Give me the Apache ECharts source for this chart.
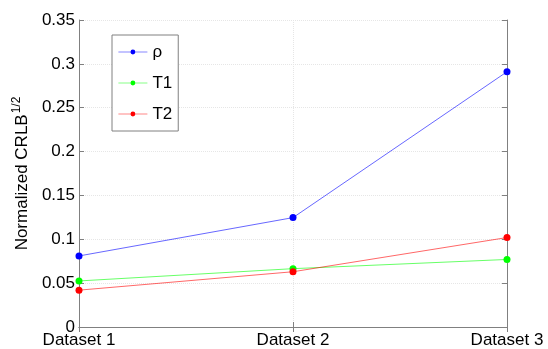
<!DOCTYPE html>
<html>
<head>
<meta charset="utf-8">
<script src="https://cdn.jsdelivr.net/npm/echarts@6/dist/echarts.min.js"></script>
<style>html,body{margin:0;padding:0;background:#fff}#chart{width:548px;height:349px}</style>
</head>
<body>
<div id="chart"></div>
<script>
// values
var categories = ['Dataset 1', 'Dataset 2', 'Dataset 3'];
var rhoValues = [0.081, 0.1247, 0.291];
var t1Values = [0.0525, 0.0665, 0.077];
var t2Values = [0.042, 0.063, 0.102];
var seriesNames = ['\u03c1', 'T1', 'T2'];
var seriesColors = ['#0000ff', '#00ff00', '#ff0000'];

var fontFam = 'Liberation Sans, Arial, sans-serif';
var axisGray = '#808080';

function mkSeries(name, data, color) {
    return {
        name: name,
        type: 'line',
        data: data,
        symbol: 'circle',
        symbolSize: 7,
        lineStyle: {color: color, width: 0.8, opacity: 0.75},
        itemStyle: {color: color},
        emphasis: {disabled: true}
    };
}

var chart = echarts.init(document.getElementById('chart'));
chart.setOption({
    animation: false,
    backgroundColor: '#fff',
    textStyle: {fontFamily: fontFam},
    grid: {left: 79, right: 41, top: 20, bottom: 22, show: false},
    legend: {
        left: 112, top: 35,
        orient: 'vertical',
        itemGap: 11,
        padding: [7, 6, 7, 6],
        itemWidth: 29, itemHeight: 6,
        borderColor: '#808080', borderWidth: 1,
        backgroundColor: '#fff',
        lineStyle: {width: 0.8, opacity: 0.6},
        textStyle: {fontSize: 17, lineHeight: 20, color: '#000', fontFamily: fontFam},
        data: seriesNames
    },
    xAxis: [{
        type: 'category',
        data: categories,
        boundaryGap: false,
        axisLine: {lineStyle: {color: axisGray}},
        axisTick: {inside: true, length: 5, lineStyle: {color: axisGray}},
        axisLabel: {color: '#000', fontSize: 17, margin: 5, fontFamily: fontFam},
        splitLine: {show: true, lineStyle: {color: '#e6e6e6', type: 'dotted'}}
    }, {
        type: 'category',
        data: categories,
        boundaryGap: false,
        position: 'top',
        axisLine: {lineStyle: {color: axisGray}},
        axisTick: {inside: true, length: 5, lineStyle: {color: axisGray}},
        axisLabel: {show: false},
        splitLine: {show: false}
    }],
    yAxis: [{
        type: 'value',
        min: 0, max: 0.35, interval: 0.05,
        axisLine: {show: true, lineStyle: {color: axisGray}},
        axisTick: {show: true, inside: true, length: 5, lineStyle: {color: axisGray}},
        axisLabel: {color: '#000', fontSize: 17, margin: 4, fontFamily: fontFam,
            formatter: function (v) { return +v.toFixed(2) + ''; }},
        splitLine: {show: true, lineStyle: {color: '#e6e6e6', type: 'dotted'}},
        name: '{a|Normalized CRLB}{b|1/2}',
        nameLocation: 'middle',
        nameGap: 42,
        nameRotate: 90,
        nameTextStyle: {
            rich: {
                a: {fontSize: 17, color: '#000', fontFamily: fontFam},
                b: {fontSize: 12, color: '#000', fontFamily: fontFam, padding: [0, 0, 12, 1]}
            }
        }
    }, {
        type: 'value',
        min: 0, max: 0.35, interval: 0.05,
        position: 'right',
        axisLine: {show: true, lineStyle: {color: axisGray}},
        axisTick: {show: true, inside: true, length: 5, lineStyle: {color: axisGray}},
        axisLabel: {show: false},
        splitLine: {show: false}
    }],
    series: [
        mkSeries(seriesNames[0], rhoValues, seriesColors[0]),
        mkSeries(seriesNames[1], t1Values, seriesColors[1]),
        mkSeries(seriesNames[2], t2Values, seriesColors[2])
    ]
});
</script>
</body>
</html>
